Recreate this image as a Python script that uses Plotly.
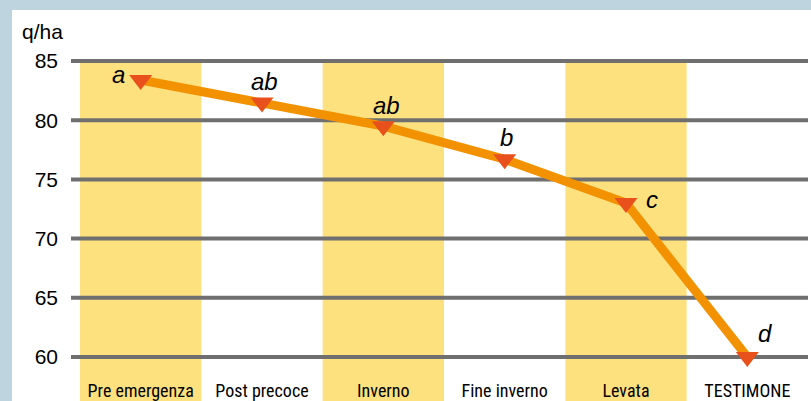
import plotly.graph_objects as go

categories = ["Pre emergenza", "Post precoce", "Inverno", "Fine inverno", "Levata", "TESTIMONE"]
resa = [83.4, 81.5, 79.5, 76.7, 73.0, 60.0]
lettere = ["a", "ab", "ab", "b", "c", "d"]
y_ticks = [60, 65, 70, 75, 80, 85]
bande_gialle = [0, 2, 4]

Y_MIN, Y_MAX = 56.28, 89.31
W, H = 811, 401
L, R, T, B = 80, 3, 10, 0
pw = W - L - R
ph = H - T - B

def px_x(p):
    return (p - L) / pw

def px_y(p):
    return (H - B - p) / ph

y85 = (85 - Y_MIN) / (Y_MAX - Y_MIN)

shapes = []
# riquadro bianco sul fondo azzurro
shapes.append(dict(type="rect", xref="paper", yref="paper", x0=px_x(12), x1=px_x(W + 5),
                   y0=-0.05, y1=1.0, fillcolor="white", line_width=0, layer="below"))
for i in bande_gialle:
    shapes.append(dict(type="rect", xref="x", yref="paper", x0=i - 0.5, x1=i + 0.5,
                       y0=-0.05, y1=y85, fillcolor="#FEE17F", line_width=0, layer="below"))
for v in y_ticks:
    shapes.append(dict(type="line", xref="paper", yref="y", x0=px_x(71), x1=px_x(808),
                       y0=v, y1=v, line=dict(color="#6F6F6F", width=4), layer="below"))

fig = go.Figure()
fig.add_trace(go.Scatter(
    x=categories, y=resa, mode="lines+markers",
    line=dict(color="#F39200", width=9),
    marker=dict(symbol="triangle-down", size=20, color="#E8501C", line_width=0),
    hoverinfo="x+y", showlegend=False,
))

# posizione delle lettere rispetto al punto (px)
offs = [(-22, 5), (2, 21), (3, 21), (2, 22), (26, 4), (18, 23)]
annotations = []
for c, v, t, (dx, dy) in zip(categories, resa, lettere, offs):
    annotations.append(dict(x=c, y=v, text=t, showarrow=False, xshift=dx, yshift=dy,
                            font=dict(family="Liberation Sans, Arial", size=24, color="black", style="italic")))
annotations.append(dict(xref="paper", yref="paper", x=px_x(20), y=px_y(31), xanchor="left", yanchor="middle",
                        text="q/ha", showarrow=False,
                        font=dict(family="Liberation Sans, Arial", size=21, color="black")))

fig.update_layout(
    width=W, height=H,
    margin=dict(l=L, r=R, t=T, b=B, pad=0, autoexpand=False),
    paper_bgcolor="#BED4DF",
    plot_bgcolor="white",
    shapes=shapes,
    annotations=annotations,
    xaxis=dict(range=[-0.5, 5.5], showgrid=False, zeroline=False, showline=False, ticks="",
               automargin=False, ticklabelposition="inside", ticklabelstandoff=-3,
               tickfont=dict(family="Liberation Sans Narrow, Roboto Condensed, DejaVu Sans Condensed, Arial",
                             size=18, color="black")),
    yaxis=dict(range=[Y_MIN, Y_MAX], tickvals=y_ticks, showgrid=False, zeroline=False, showline=False,
               automargin=False, ticks="", ticklabelstandoff=21,
               tickfont=dict(family="Liberation Sans, Arial", size=21, color="black")),
)

fig.write_html("out.html", config={"displayModeBar": False},
               post_script="document.body.style.margin='0';")
